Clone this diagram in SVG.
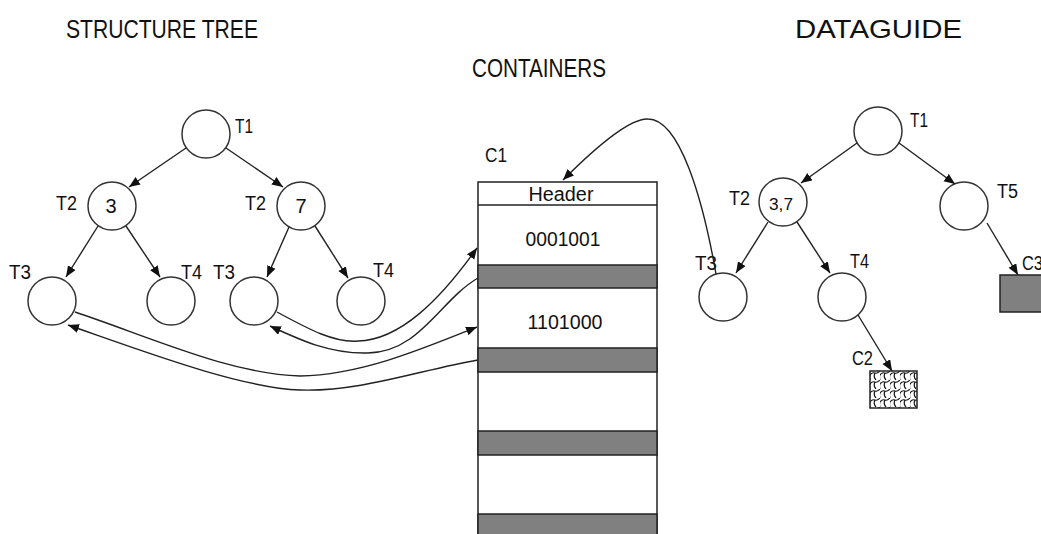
<svg xmlns="http://www.w3.org/2000/svg" width="1041" height="534" viewBox="0 0 1041 534">
  <style>
    text { font-family: "Liberation Sans", Arial, sans-serif; fill: #111; }
    .title { font-size: 25px; }
    .lbl { font-size: 20.5px; }
    .cell { font-size: 20px; text-anchor: middle; }
    .node { fill: #fff; stroke: #333; stroke-width: 1.5; }
    .edge { fill: none; stroke: #222; stroke-width: 1.4; marker-end: url(#arrow); }
    .slot { fill: #fff; stroke: #222; stroke-width: 1.5; }
    .band { fill: #808080; stroke: #222; stroke-width: 1.5; }
  </style>
  <defs>
    <marker id="arrow" markerUnits="userSpaceOnUse" markerWidth="12" markerHeight="10" refX="11" refY="4.5" orient="auto">
      <path d="M0,0 L11,4.5 L0,9 z" fill="#111"/>
    </marker>
    <pattern id="shingle" patternUnits="userSpaceOnUse" x="870" y="371" width="10" height="9">
      <rect width="10" height="9" fill="#fff"/>
      <path d="M0,4 Q2,1 5,2 Q7,3 10,0 M5,2 Q3,6 6,9 M0,9 Q-1,6 0,4" fill="none" stroke="#111" stroke-width="1.2"/>
    </pattern>
  </defs>

  <!-- headings -->
  <text class="title" x="66" y="38" textLength="192" lengthAdjust="spacingAndGlyphs">STRUCTURE TREE</text>
  <text class="title" x="472" y="77" textLength="134" lengthAdjust="spacingAndGlyphs">CONTAINERS</text>
  <text class="title" x="795" y="38" style="font-size:26.5px" textLength="167" lengthAdjust="spacingAndGlyphs">DATAGUIDE</text>

  <!-- structure tree nodes -->
  <g id="st-t1"><circle class="node" cx="206" cy="134" r="24"/><text class="lbl" x="235" y="133" textLength="18" lengthAdjust="spacingAndGlyphs">T1</text></g>
  <g id="st-t2a"><circle class="node" cx="112" cy="206" r="24"/><text class="cell" x="111" y="213">3</text><text class="lbl" x="56" y="210" textLength="21" lengthAdjust="spacingAndGlyphs">T2</text></g>
  <g id="st-t2b"><circle class="node" cx="301" cy="206" r="24"/><text class="cell" x="301" y="213">7</text><text class="lbl" x="245" y="210" textLength="21" lengthAdjust="spacingAndGlyphs">T2</text></g>
  <g id="st-t3a"><circle class="node" cx="52" cy="301" r="24"/><text class="lbl" x="9" y="279" textLength="22" lengthAdjust="spacingAndGlyphs">T3</text></g>
  <g id="st-t4a"><circle class="node" cx="171" cy="301" r="24"/><text class="lbl" x="181" y="279" textLength="21" lengthAdjust="spacingAndGlyphs">T4</text></g>
  <g id="st-t3b"><circle class="node" cx="254" cy="301" r="24"/><text class="lbl" x="213" y="279" textLength="22" lengthAdjust="spacingAndGlyphs">T3</text></g>
  <g id="st-t4b"><circle class="node" cx="361" cy="301" r="24"/><text class="lbl" x="373" y="277" textLength="21" lengthAdjust="spacingAndGlyphs">T4</text></g>

  <!-- container C1 -->
  <g id="c1">
    <text class="lbl" x="485" y="162" textLength="22" lengthAdjust="spacingAndGlyphs">C1</text>
    <rect class="slot" x="478" y="182" width="179" height="360"/>
    <line x1="478" y1="205" x2="657" y2="205" stroke="#222" stroke-width="1.5"/>
    <rect class="band" x="478" y="265" width="179" height="23"/>
    <rect class="band" x="478" y="348" width="179" height="24"/>
    <rect class="band" x="478" y="431" width="179" height="24"/>
    <rect class="band" x="478" y="514" width="179" height="24"/>
    <text class="cell" x="561" y="201" textLength="65" lengthAdjust="spacingAndGlyphs">Header</text>
    <text class="cell" x="563" y="246" textLength="75" lengthAdjust="spacingAndGlyphs">0001001</text>
    <text class="cell" x="565" y="329" textLength="75" lengthAdjust="spacingAndGlyphs">1101000</text>
  </g>

  <!-- dataguide nodes -->
  <g id="dg-t1"><circle class="node" cx="878" cy="131" r="24"/><text class="lbl" x="910" y="127" textLength="18" lengthAdjust="spacingAndGlyphs">T1</text></g>
  <g id="dg-t2"><circle class="node" cx="783" cy="202" r="24"/><text class="cell" x="781" y="210" style="font-size:17px" textLength="24" lengthAdjust="spacingAndGlyphs">3,7</text><text class="lbl" x="729" y="205" textLength="21" lengthAdjust="spacingAndGlyphs">T2</text></g>
  <g id="dg-t5"><circle class="node" cx="964" cy="206" r="24"/><text class="lbl" x="997" y="198" textLength="21" lengthAdjust="spacingAndGlyphs">T5</text></g>
  <g id="dg-t3"><circle class="node" cx="723" cy="297" r="24"/><text class="lbl" x="695" y="270" textLength="22" lengthAdjust="spacingAndGlyphs">T3</text></g>
  <g id="dg-t4"><circle class="node" cx="842" cy="297" r="24"/><text class="lbl" x="850" y="268" textLength="19" lengthAdjust="spacingAndGlyphs">T4</text></g>
  <g id="dg-c2"><rect x="870" y="371" width="47" height="37" fill="url(#shingle)" stroke="#222" stroke-width="1.5"/><text class="lbl" x="852" y="365" textLength="21" lengthAdjust="spacingAndGlyphs">C2</text></g>
  <g id="dg-c3"><rect x="1000" y="275" width="50" height="37" fill="#808080" stroke="#222" stroke-width="1.5"/><text class="lbl" x="1022" y="270" textLength="21" lengthAdjust="spacingAndGlyphs">C3</text></g>

  <!-- connectors -->
  <g id="connectors">
    <!-- structure tree edges -->
    <line class="edge" x1="186" y1="148" x2="129" y2="187"/>
    <line class="edge" x1="226" y1="148" x2="283" y2="187"/>
    <line class="edge" x1="98" y1="226" x2="66" y2="277"/>
    <line class="edge" x1="126" y1="226" x2="160" y2="277"/>
    <line class="edge" x1="289" y1="227" x2="267" y2="277"/>
    <line class="edge" x1="315" y1="226" x2="348" y2="278"/>
    <!-- dataguide edges -->
    <line class="edge" x1="857" y1="143" x2="801" y2="183"/>
    <line class="edge" x1="899" y1="143" x2="955" y2="184"/>
    <line class="edge" x1="768" y1="222" x2="736" y2="273"/>
    <line class="edge" x1="797" y1="222" x2="830" y2="273"/>
    <line class="edge" x1="858" y1="315" x2="892" y2="371"/>
    <line class="edge" x1="987" y1="223" x2="1018" y2="275"/>
    <!-- dataguide T3 to container header -->
    <path class="edge" d="M716,274 C703,200 680,119 648,119 C630,118 595,148 563,180"/>
    <!-- tree leaves to container slots -->
    <path class="edge" d="M277,312 C310,330 335,343 358,341 C400,340 440,300 477,248"/>
    <path class="edge" d="M478,278 C440,300 420,352 368,353 C330,354 300,340 270,326"/>
    <path class="edge" d="M75,312 C150,337 230,374 300,376 C360,375 420,350 477,327"/>
    <path class="edge" d="M478,360 C420,370 360,392 300,390 C240,388 140,350 68,325"/>
  </g>
</svg>
